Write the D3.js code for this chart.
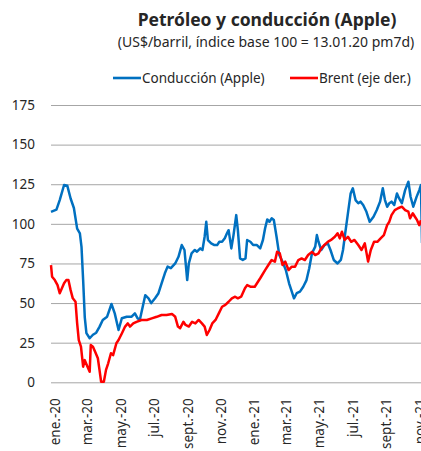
<!DOCTYPE html>
<meta charset="utf-8">
<style>
    body { margin: 0; background: #fff; }
    text { font-family: "Noto Sans", sans-serif; fill: #262626; }
    .grid line { stroke: #a6a6a6; stroke-width: 1px; }
    .baseline { stroke: #868686; stroke-width: 1px; }
    .series { fill: none; stroke-width: 2.5px; stroke-linejoin: round; }
</style>
<body>
<script src="https://d3js.org/d3.v7.min.js"></script>
<script>

// first day of the Apple series, days below are counted from it
var startDate = new Date(2020, 0, 13);

// Conducción (Apple), índice base 100
var appleDays = [0, 10, 16, 24, 30, 36, 42, 48, 53, 56, 59, 62, 65, 71, 77, 83, 89, 95, 103, 111, 117,
    124, 130, 139, 148, 154, 159, 163, 173, 179, 184, 191, 197, 203, 209, 214, 220, 228, 234, 240,
    245, 250, 253, 258, 264, 268, 274, 278, 282, 285, 288, 294, 300, 305, 309, 314, 319, 323, 326,
    331, 335, 340, 343, 347, 352, 357, 360, 366, 371, 378, 384, 389, 393, 397, 401, 405, 409, 414,
    419, 425, 431, 437, 442, 446, 451, 457, 463, 469, 474, 479, 485, 488, 491, 496, 502, 508, 513,
    519, 526, 532, 536, 540, 545, 550, 554, 559, 564, 568, 573, 579, 585, 592, 598, 604, 609, 613,
    617, 621, 625, 630, 635, 639, 644, 650, 656, 660, 665, 671, 676, 679, 681];
var appleIdx = [107.6, 109, 115, 124.5, 124, 116, 110, 97, 94, 85.5, 64.5, 41, 31, 27.8, 30, 31.3, 35, 39.3, 41.4, 49.4, 43.5,
    33, 40.4, 41.4, 41.4, 43.5, 40.4, 39.3, 55, 53, 50, 53, 56, 62.5, 68.8, 73, 72, 75, 79.2, 86.6,
    83.5, 64.5, 75, 81.4, 83.5, 82.4, 84.5, 83.5, 91.9, 101.3, 89.8, 87.7, 86.6, 86.6, 88.7, 88.7, 90.9, 94, 96,
    84.5, 92.9, 105.5, 96, 78.2, 77.2, 78.2, 89.8, 88.7, 86.6, 86.6, 84.5, 89.8, 97.2, 102.8, 101.3, 103.5, 102.4, 91.9,
    80.3, 76.1, 70.9, 62.5, 57.2, 53, 56.2, 57.2, 60.3, 64.5, 72, 81.4, 85.6, 92.9, 88.7, 83.5, 86.6, 87.7, 83.5,
    77.2, 75, 77.2, 83.5, 94, 106.6, 119.2, 122.4, 115, 113, 114, 111.9, 107.6, 101.3, 104.5, 108.7, 114, 122.4, 115,
    110.8, 113, 114, 111.9, 119.2, 116, 113, 121.3, 126.6, 117.1, 110.8, 117, 121.3, 124.5, 88];

// Brent, US$/barril (eje derecho)
var brentDays = [0, 2, 7, 12, 16, 20, 24, 28, 32, 36, 40, 45, 48, 51, 55, 57, 59, 62, 67, 71, 73, 77, 81, 86, 89,
    92, 97, 101, 105, 110, 114, 120, 124, 130, 136, 141, 145, 151, 157, 166, 176, 185, 194, 203, 212,
    222, 228, 233, 237, 243, 247, 253, 259, 265, 271, 277, 282, 286, 291, 296, 302, 308, 314, 320, 326,
    332, 338, 343, 349, 356, 360, 366, 374, 384, 393, 399, 405, 411, 415, 420, 425, 430, 436, 442, 448,
    454, 460, 466, 472, 479, 485, 491, 496, 502, 508, 514, 521, 526, 530, 534, 539, 545, 551, 557, 564,
    570, 576, 582, 587, 593, 599, 605, 611, 617, 621, 625, 631, 637, 644, 650, 656, 659, 664, 668, 672,
    676, 679];
var brentUsd = [64.4, 60.0, 58.7, 56.8, 53.7, 55.6, 57.5, 58.7, 58.7, 54.9, 51.8, 50.5, 42.3, 36.0, 33.5, 29.7, 25.9, 28.4, 25.9, 24.0,
    34.1, 33.5, 31.6, 29.1, 24.7, 20.2, 20.2, 24.7, 27.2, 31.0, 30.3, 34.8, 36.0, 38.5, 41.1, 42.3, 41.1, 42.3, 42.9,
    43.6, 43.6, 44.2, 44.8, 45.5, 45.5, 45.9, 44.8, 41.1, 40.5, 42.9, 41.7, 41.1, 42.9, 42.3, 43.6, 42.3, 41.1, 37.9,
    39.8, 42.3, 43.6, 46.1, 48.6, 49.3, 50.5, 51.8, 52.4, 51.8, 52.4, 55.6, 56.8, 56.2, 56.2, 59.4, 62.5, 64.4, 66.3,
    65.7, 69.4, 68.8, 64.4, 65.7, 62.5, 63.8, 63.8, 66.3, 66.9, 66.3, 68.2, 69.4, 68.2, 68.8, 70.7, 72.0, 73.2, 73.9,
    75.1, 76.4, 74.5, 77.0, 73.9, 75.1, 73.2, 73.9, 72.0, 70.1, 72.6, 65.7, 70.1, 73.2, 73.2, 74.5, 75.7, 79.5, 80.8,
    83.3, 85.2, 85.9, 86.5, 85.2, 84.6, 82.1, 84.0, 82.7, 81.4, 79.5, 81.4];

var yTicks = [0, 25, 50, 75, 100, 125, 150, 175];
var xTickDates = ["2020-01-13", "2020-03-13", "2020-05-13", "2020-07-13", "2020-09-13", "2020-11-13",
    "2021-01-13", "2021-03-13", "2021-05-13", "2021-07-13", "2021-09-13", "2021-11-13"];
var xTickLabels = ["ene.-20", "mar.-20", "may.-20", "jul.-20", "sept.-20", "nov.-20",
    "ene.-21", "mar.-21", "may.-21", "jul.-21", "sept.-21", "nov.-21"];

var width = 421, height = 451;
var plot = {left: 51, right: 440, top: 105, bottom: 382.3};

var svg = d3.select("body").append("svg")
    .attr("width", width)
    .attr("height", height);

var parseDate = d3.timeParse("%Y-%m-%d");
var endDate = d3.timeDay.offset(startDate, 710);

var x = d3.scaleTime()
    .domain([startDate, endDate])
    .range([plot.left, plot.left + 710 / 1.8355]);

var y = d3.scaleLinear().domain([0, 175]).range([plot.bottom, plot.top]);
// right axis (Brent) sits outside the visible frame
var y2 = d3.scaleLinear().domain([20, 125]).range([plot.bottom, plot.top]);

// gridlines + left axis labels
var yAxis = svg.append("g")
    .attr("class", "grid")
    .attr("transform", "translate(" + plot.left + ",0)")
    .call(d3.axisLeft(y)
        .tickValues(yTicks)
        .tickSize(-(plot.right - plot.left))
        .tickPadding(16));
yAxis.select(".domain").remove();
yAxis.selectAll("text").style("font-size", "13.5px").attr("fill", "#262626");
yAxis.selectAll(".tick").filter(function(d) { return d === 0; })
    .select("line").attr("class", "baseline");

// x axis, rotated labels
var xAxis = svg.append("g")
    .attr("transform", "translate(0," + plot.bottom + ")")
    .call(d3.axisBottom(x)
        .tickValues(xTickDates.map(parseDate))
        .tickSize(0)
        .tickFormat(function(d, i) { return xTickLabels[i]; }));
xAxis.select(".domain").remove();
xAxis.selectAll("text")
    .style("font-size", "13.5px")
    .attr("fill", "#262626")
    .attr("text-anchor", "end")
    .attr("transform", "rotate(-90)")
    .attr("x", -16)
    .attr("y", 0)
    .attr("dy", "0.6em");

var apple = appleDays.map(function(d, i) {
    return {date: d3.timeDay.offset(startDate, d), v: appleIdx[i]};
});
var brent = brentDays.map(function(d, i) {
    return {date: d3.timeDay.offset(startDate, d), v: brentUsd[i]};
});

svg.append("path")
    .datum(apple)
    .attr("class", "series")
    .attr("stroke", "#0070c0")
    .attr("d", d3.line()
        .x(function(d) { return x(d.date); })
        .y(function(d) { return y(d.v); }));

svg.append("path")
    .datum(brent)
    .attr("class", "series")
    .attr("stroke", "#ff0000")
    .attr("d", d3.line()
        .x(function(d) { return x(d.date); })
        .y(function(d) { return y2(d.v); }));

// title
svg.append("text")
    .attr("x", 267).attr("y", 26)
    .attr("text-anchor", "middle")
    .style("font-size", "17.5px")
    .style("font-weight", "bold")
    .attr("fill", "#000")
    .text("Petróleo y conducción (Apple)");

svg.append("text")
    .attr("x", 266).attr("y", 47)
    .attr("text-anchor", "middle")
    .style("font-size", "14px")
    .text("(US$/barril, índice base 100 = 13.01.20 pm7d)");

// legend
var legend = [
    {label: "Conducción (Apple)", color: "#0070c0", x: 113},
    {label: "Brent (eje der.)", color: "#ff0000", x: 290}
];
var lg = svg.append("g").selectAll("g")
    .data(legend)
    .enter().append("g")
    .attr("transform", function(d) { return "translate(" + d.x + ",78)"; });
lg.append("line")
    .attr("x1", 0).attr("x2", 28)
    .attr("stroke", function(d) { return d.color; })
    .attr("stroke-width", 2.6);
lg.append("text")
    .attr("x", 29).attr("dy", "0.35em")
    .style("font-size", "13.5px")
    .text(function(d) { return d.label; });

</script>
</body>
